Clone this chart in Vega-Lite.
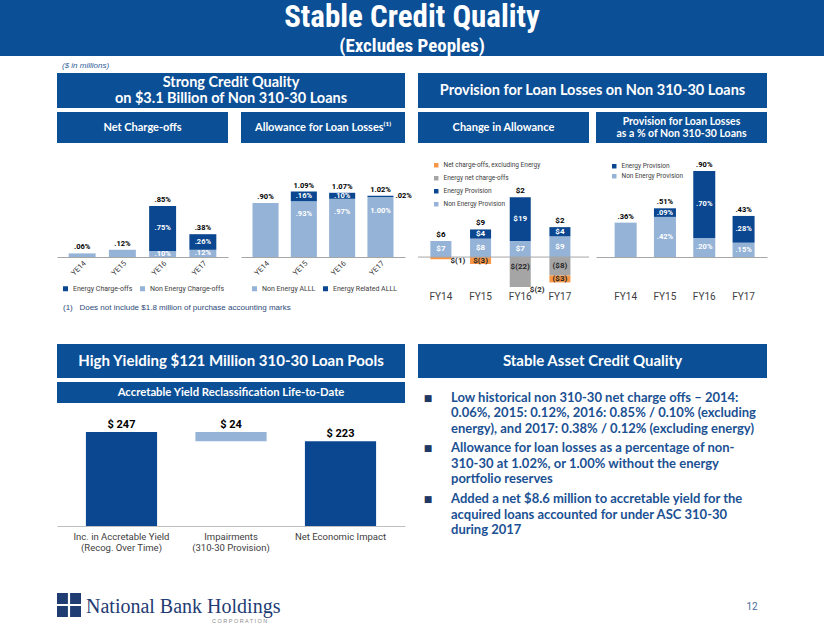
{
"$schema": "https://vega.github.io/schema/vega-lite/v6.json",
"padding": 0,
"background": "white",
"spacing": 0,
"resolve": {"scale": {"color": "independent"}},
"config": {
  "font": "Roboto",
  "view": {"stroke": null},
  "axis": {"grid": false},
  "legend": {"symbolType": "square", "labelFontSize": 7, "labelColor": "#404040", "padding": 0, "symbolStrokeWidth": 0, "symbolSize": 25, "labelFont": "Roboto"}
},
"datasets": {
  "nco": [
    {"year": "YE14", "series": "Non Energy Charge-offs", "value": 0.06, "lbl": ".06%"},
    {"year": "YE15", "series": "Non Energy Charge-offs", "value": 0.12, "lbl": ".12%"},
    {"year": "YE16", "series": "Non Energy Charge-offs", "value": 0.10, "lbl": ".10%"},
    {"year": "YE16", "series": "Energy Charge-offs", "value": 0.75, "lbl": ".75%"},
    {"year": "YE17", "series": "Non Energy Charge-offs", "value": 0.12, "lbl": ".12%"},
    {"year": "YE17", "series": "Energy Charge-offs", "value": 0.26, "lbl": ".26%"}
  ],
  "nco_tot": [
    {"year": "YE14", "total": 0.06, "lbl": ".06%"},
    {"year": "YE15", "total": 0.12, "lbl": ".12%"},
    {"year": "YE16", "total": 0.85, "lbl": ".85%"},
    {"year": "YE17", "total": 0.38, "lbl": ".38%"}
  ],
  "alll": [
    {"year": "YE14", "series": "Non Energy ALLL", "value": 0.90, "lbl": ".90%"},
    {"year": "YE15", "series": "Non Energy ALLL", "value": 0.93, "lbl": ".93%"},
    {"year": "YE15", "series": "Energy Related ALLL", "value": 0.16, "lbl": ".16%"},
    {"year": "YE16", "series": "Non Energy ALLL", "value": 0.97, "lbl": ".97%"},
    {"year": "YE16", "series": "Energy Related ALLL", "value": 0.10, "lbl": ".10%"},
    {"year": "YE17", "series": "Non Energy ALLL", "value": 1.00, "lbl": "1.00%"},
    {"year": "YE17", "series": "Energy Related ALLL", "value": 0.02, "lbl": ".02%"}
  ],
  "alll_tot": [
    {"year": "YE14", "total": 0.90, "lbl": ".90%"},
    {"year": "YE15", "total": 1.09, "lbl": "1.09%"},
    {"year": "YE16", "total": 1.07, "lbl": "1.07%"},
    {"year": "YE17", "total": 1.02, "lbl": "1.02%"}
  ],
  "chg": [
    {"year": "FY14", "series": "Non Energy Provision", "value": 7, "ord": 1, "lbl": "$7"},
    {"year": "FY14", "series": "Net charge-offs, excluding Energy", "value": -1, "ord": 2, "lbl": "$(1)"},
    {"year": "FY15", "series": "Non Energy Provision", "value": 8, "ord": 1, "lbl": "$8"},
    {"year": "FY15", "series": "Energy Provision", "value": 4, "ord": 2, "lbl": "$4"},
    {"year": "FY15", "series": "Net charge-offs, excluding Energy", "value": -3, "ord": 2, "lbl": "$(3)"},
    {"year": "FY16", "series": "Non Energy Provision", "value": 7, "ord": 1, "lbl": "$7"},
    {"year": "FY16", "series": "Energy Provision", "value": 19, "ord": 2, "lbl": "$19"},
    {"year": "FY16", "series": "Energy net charge-offs", "value": -22, "ord": 1, "lbl": "$(22)"},
    {"year": "FY16", "series": "Net charge-offs, excluding Energy", "value": -2, "ord": 2, "lbl": "$(2)"},
    {"year": "FY17", "series": "Non Energy Provision", "value": 9, "ord": 1, "lbl": "$9"},
    {"year": "FY17", "series": "Energy Provision", "value": 4, "ord": 2, "lbl": "$4"},
    {"year": "FY17", "series": "Energy net charge-offs", "value": -8, "ord": 1, "lbl": "($8)"},
    {"year": "FY17", "series": "Net charge-offs, excluding Energy", "value": -3, "ord": 2, "lbl": "($3)"}
  ],
  "chg_tot": [
    {"year": "FY14", "prov": 7, "lbl": "$6"},
    {"year": "FY15", "prov": 12, "lbl": "$9"},
    {"year": "FY16", "prov": 26, "lbl": "$2"},
    {"year": "FY17", "prov": 13, "lbl": "$2"}
  ],
  "ppct": [
    {"year": "FY14", "series": "Non Energy Provision", "value": 0.36, "lbl": ".36%"},
    {"year": "FY15", "series": "Non Energy Provision", "value": 0.42, "lbl": ".42%"},
    {"year": "FY15", "series": "Energy Provision", "value": 0.09, "lbl": ".09%"},
    {"year": "FY16", "series": "Non Energy Provision", "value": 0.20, "lbl": ".20%"},
    {"year": "FY16", "series": "Energy Provision", "value": 0.70, "lbl": ".70%"},
    {"year": "FY17", "series": "Non Energy Provision", "value": 0.15, "lbl": ".15%"},
    {"year": "FY17", "series": "Energy Provision", "value": 0.28, "lbl": ".28%"}
  ],
  "ppct_tot": [
    {"year": "FY14", "total": 0.36, "lbl": ".36%"},
    {"year": "FY15", "total": 0.51, "lbl": ".51%"},
    {"year": "FY16", "total": 0.90, "lbl": ".90%"},
    {"year": "FY17", "total": 0.43, "lbl": ".43%"}
  ],
  "wf": [
    {"cat": "Inc. in Accretable Yield\n(Recog. Over Time)", "start": 0, "end": 247, "kind": "total", "lbl": "$ 247"},
    {"cat": "Impairments\n(310-30 Provision)", "start": 223, "end": 247, "kind": "change", "lbl": "$ 24"},
    {"cat": "Net Economic Impact", "start": 0, "end": 223, "kind": "total", "lbl": "$ 223"}
  ]
},
"vconcat": [
  {
    "width": 824, "height": 56,
    "view": {"fill": "#0B4F96", "stroke": null},
    "data": {"values": [{"t": "Stable Credit Quality", "s": "(Excludes Peoples)"}]},
    "layer": [
      {"mark": {"type": "text", "font": "Liberation Sans Narrow, Roboto Condensed, Roboto", "fontWeight": "bold", "fontSize": 31, "color": "white", "dy": -10}, "encoding": {"text": {"field": "t", "type": "nominal"}}},
      {"mark": {"type": "text", "font": "Liberation Sans Narrow, Roboto Condensed, Roboto", "fontWeight": "bold", "fontSize": 19, "color": "white", "dy": 18}, "encoding": {"text": {"field": "s", "type": "nominal"}}}
    ]
  },
  {
    "width": 124, "height": 17,
    "data": {"values": [{"t": "($ in millions)"}]},
    "mark": {"type": "text", "align": "left", "fontSize": 8, "fontStyle": "italic", "color": "#2E5C99", "font": "Liberation Sans", "dy": 1},
    "encoding": {"text": {"field": "t", "type": "nominal"}}
  },
  {
    "hconcat": [
      {"width": 57, "height": 35, "data": {"values": []}, "mark": "point"},
      {
        "width": 348, "height": 35,
        "view": {"fill": "#0B4F96", "stroke": null},
        "data": {"values": [{"t": "Strong Credit Quality\non $3.1 Billion of Non 310-30 Loans"}]},
        "mark": {"type": "text", "color": "white", "fontWeight": "bold", "fontSize": 14.5, "font": "Lato", "lineBreak": "\n", "lineHeight": 15.5, "dy": -7.5},
        "encoding": {"text": {"field": "t", "type": "nominal"}}
      },
      {"width": 13, "height": 35, "data": {"values": []}, "mark": "point"},
      {
        "width": 349, "height": 35,
        "view": {"fill": "#0B4F96", "stroke": null},
        "data": {"values": [{"t": "Provision for Loan Losses on Non 310-30 Loans"}]},
        "mark": {"type": "text", "color": "white", "fontWeight": "bold", "fontSize": 14.5, "font": "Lato"},
        "encoding": {"text": {"field": "t", "type": "nominal"}}
      }
    ],
    "spacing": 0, "bounds": "flush"
  },
  {"width": 1, "height": 4, "data": {"values": []}, "mark": "point"},
  {
    "hconcat": [
      {"width": 57, "height": 31, "data": {"values": []}, "mark": "point"},
      {
        "width": 171, "height": 31,
        "view": {"fill": "#0B4F96", "stroke": null},
        "data": {"values": [{"t": "Net Charge-offs"}]},
        "mark": {"type": "text", "color": "white", "fontWeight": "bold", "fontSize": 11, "font": "Lato"},
        "encoding": {"text": {"field": "t", "type": "nominal"}}
      },
      {"width": 13, "height": 31, "data": {"values": []}, "mark": "point"},
      {
        "width": 164, "height": 31,
        "view": {"fill": "#0B4F96", "stroke": null},
        "data": {"values": [{"t": "Allowance for Loan Losses⁽¹⁾"}]},
        "mark": {"type": "text", "color": "white", "fontWeight": "bold", "fontSize": 11, "font": "Lato"},
        "encoding": {"text": {"field": "t", "type": "nominal"}}
      },
      {"width": 13, "height": 31, "data": {"values": []}, "mark": "point"},
      {
        "width": 171, "height": 31,
        "view": {"fill": "#0B4F96", "stroke": null},
        "data": {"values": [{"t": "Change in Allowance"}]},
        "mark": {"type": "text", "color": "white", "fontWeight": "bold", "fontSize": 11, "font": "Lato"},
        "encoding": {"text": {"field": "t", "type": "nominal"}}
      },
      {"width": 7, "height": 31, "data": {"values": []}, "mark": "point"},
      {
        "width": 171, "height": 31,
        "view": {"fill": "#0B4F96", "stroke": null},
        "data": {"values": [{"t": "Provision for Loan Losses\nas a % of Non 310-30 Loans"}]},
        "mark": {"type": "text", "color": "white", "fontWeight": "bold", "fontSize": 10.5, "font": "Lato", "lineBreak": "\n", "lineHeight": 12, "dy": -6},
        "encoding": {"text": {"field": "t", "type": "nominal"}}
      }
    ],
    "spacing": 0, "bounds": "flush"
  },
  {"width": 1, "height": 4, "data": {"values": []}, "mark": "point"},
  {
    "hconcat": [
      {"width": 57, "height": 155, "data": {"values": []}, "mark": "point"},
      {
        "width": 171, "height": 110,
        "data": {"name": "nco"},
        "encoding": {
          "x": {"field": "year", "type": "nominal", "scale": {"paddingInner": 0.33, "paddingOuter": 0.29},
                "axis": {"title": null, "labelAngle": -45, "labelFontSize": 7.5, "labelColor": "#404040", "ticks": false, "domainColor": "#A6A6A6", "labelPadding": 2}}
        },
        "layer": [
          {"mark": {"type": "bar"},
           "encoding": {
             "y": {"field": "value", "type": "quantitative", "scale": {"domain": [0, 1.833]}, "axis": null},
             "color": {"field": "series", "type": "nominal", "scale": {"domain": ["Energy Charge-offs", "Non Energy Charge-offs"], "range": ["#0A4790", "#95B3D7"]},
                       "legend": {"title": null, "orient": "none", "legendX": 5, "legendY": 138, "direction": "horizontal", "columnPadding": 6}},
             "order": {"field": "series", "sort": "descending"}}},
          {"mark": {"type": "text", "color": "white", "fontSize": 7.5, "fontWeight": "bold"},
           "encoding": {
             "y": {"field": "value", "type": "quantitative", "stack": "zero", "bandPosition": 0.5, "scale": {"domain": [0, 1.833]}, "axis": null},
             "detail": {"field": "series", "type": "nominal"},
             "order": {"field": "series", "sort": "descending"},
             "text": {"condition": {"test": "datum.year == 'YE16' || datum.year == 'YE17'", "field": "lbl", "type": "nominal"}, "value": ""}}},
          {"data": {"name": "nco_tot"},
           "mark": {"type": "text", "color": "black", "fontSize": 7.5, "fontWeight": "bold", "dy": -6},
           "encoding": {
             "y": {"field": "total", "type": "quantitative", "scale": {"domain": [0, 1.833]}, "axis": null},
             "text": {"field": "lbl", "type": "nominal"}}}
        ]
      },
      {"width": 13, "height": 1, "data": {"values": []}, "mark": "point"},
      {
        "width": 164, "height": 110,
        "data": {"name": "alll"},
        "encoding": {
          "x": {"field": "year", "type": "nominal", "scale": {"paddingInner": 0.32, "paddingOuter": 0.3},
                "axis": {"title": null, "labelAngle": -45, "labelFontSize": 7.5, "labelColor": "#404040", "ticks": false, "domainColor": "#A6A6A6", "labelPadding": 2}}
        },
        "layer": [
          {"mark": {"type": "bar"},
           "encoding": {
             "y": {"field": "value", "type": "quantitative", "scale": {"domain": [0, 1.833]}, "axis": null},
             "color": {"field": "series", "type": "nominal", "scale": {"domain": ["Non Energy ALLL", "Energy Related ALLL"], "range": ["#95B3D7", "#0A4790"]},
                       "legend": {"title": null, "orient": "none", "legendX": 10, "legendY": 138, "direction": "horizontal", "columnPadding": 6}},
             "order": {"field": "series", "sort": "descending"}}},
          {"mark": {"type": "text", "color": "white", "fontSize": 7.5, "fontWeight": "bold"},
           "encoding": {
             "y": {"field": "value", "type": "quantitative", "stack": "zero", "bandPosition": 0.77, "scale": {"domain": [0, 1.833]}, "axis": null},
             "detail": {"field": "series", "type": "nominal"},
             "order": {"field": "series", "sort": "descending"},
             "text": {"condition": {"test": "datum.series == 'Non Energy ALLL' && datum.year != 'YE14'", "field": "lbl", "type": "nominal"}, "value": ""}}},
          {"mark": {"type": "text", "color": "white", "fontSize": 7.5, "fontWeight": "bold"},
           "encoding": {
             "y": {"field": "value", "type": "quantitative", "stack": "zero", "bandPosition": 0.5, "scale": {"domain": [0, 1.833]}, "axis": null},
             "detail": {"field": "series", "type": "nominal"},
             "order": {"field": "series", "sort": "descending"},
             "text": {"condition": {"test": "datum.series == 'Energy Related ALLL' && datum.year != 'YE17'", "field": "lbl", "type": "nominal"}, "value": ""}}},
          {"mark": {"type": "text", "color": "black", "fontSize": 7.5, "fontWeight": "bold", "align": "left", "dx": 15},
           "encoding": {
             "y": {"field": "value", "type": "quantitative", "stack": "zero", "bandPosition": 0.5, "scale": {"domain": [0, 1.833]}, "axis": null},
             "detail": {"field": "series", "type": "nominal"},
             "order": {"field": "series", "sort": "descending"},
             "text": {"condition": {"test": "datum.series == 'Energy Related ALLL' && datum.year == 'YE17'", "field": "lbl", "type": "nominal"}, "value": ""}}},
          {"data": {"name": "alll_tot"},
           "mark": {"type": "text", "color": "black", "fontSize": 7.5, "fontWeight": "bold", "dy": -6},
           "encoding": {
             "y": {"field": "total", "type": "quantitative", "scale": {"domain": [0, 1.833]}, "axis": null},
             "text": {"field": "lbl", "type": "nominal"}}}
        ]
      },
      {"width": 13, "height": 1, "data": {"values": []}, "mark": "point"},
      {
        "width": 171, "height": 140,
        "layer": [
          {
            "data": {"name": "chg"},
            "encoding": {
              "x": {"field": "year", "type": "nominal", "scale": {"paddingInner": 0.47, "paddingOuter": 0.39, "align": 0.4},
                    "axis": {"title": null, "labelAngle": 0, "labelFontSize": 10, "labelColor": "#404040", "ticks": false, "domain": false, "labelPadding": 4}}
            },
            "layer": [
              {"mark": {"type": "bar"},
               "encoding": {
                 "y": {"field": "value", "type": "quantitative", "scale": {"domain": [-13, 47.8], "clamp": true}, "axis": null},
                 "color": {"field": "series", "type": "nominal", "scale": {"domain": ["Net charge-offs, excluding Energy", "Energy net charge-offs", "Energy Provision", "Non Energy Provision"], "range": ["#F79646", "#A5A5A5", "#0A4790", "#95B3D7"]},
                           "legend": {"title": null, "orient": "none", "legendX": 15, "legendY": 15, "direction": "vertical", "labelFontSize": 6.5, "symbolSize": 20, "rowPadding": 6}},
                 "order": {"field": "ord"}}},
              {"mark": {"type": "text", "color": "white", "fontSize": 8, "fontWeight": "bold"},
               "encoding": {
                 "y": {"field": "value", "type": "quantitative", "stack": "zero", "bandPosition": 0.5, "scale": {"domain": [-13, 47.8], "clamp": true}, "axis": null},
                 "detail": {"field": "series", "type": "nominal"},
                 "order": {"field": "ord"},
                 "text": {"condition": {"test": "datum.value > 0", "field": "lbl", "type": "nominal"}, "value": ""}}},
              {"mark": {"type": "text", "color": "#262626", "fontSize": 8, "fontWeight": "bold"},
               "encoding": {
                 "y": {"field": "value", "type": "quantitative", "stack": "zero", "bandPosition": 0.5, "scale": {"domain": [-13, 47.8], "clamp": true}, "axis": null},
                 "detail": {"field": "series", "type": "nominal"},
                 "order": {"field": "ord"},
                 "text": {"condition": {"test": "datum.value < 0 && (datum.year == 'FY15' || datum.year == 'FY17')", "field": "lbl", "type": "nominal"}, "value": ""}}},
              {"mark": {"type": "text", "color": "#262626", "fontSize": 8, "fontWeight": "bold", "dx": 17, "dy": 3},
               "encoding": {
                 "y": {"field": "value", "type": "quantitative", "stack": "zero", "bandPosition": 0.5, "scale": {"domain": [-13, 47.8], "clamp": true}, "axis": null},
                 "detail": {"field": "series", "type": "nominal"},
                 "order": {"field": "ord"},
                 "text": {"condition": {"test": "datum.value < 0 && datum.ord == 2 && (datum.year == 'FY14' || datum.year == 'FY16')", "field": "lbl", "type": "nominal"}, "value": ""}}},
              {"mark": {"type": "text", "color": "#262626", "fontSize": 8, "fontWeight": "bold"},
               "encoding": {
                 "y": {"field": "value", "type": "quantitative", "stack": "zero", "bandPosition": 0.2, "scale": {"domain": [-13, 47.8], "clamp": true}, "axis": null},
                 "detail": {"field": "series", "type": "nominal"},
                 "order": {"field": "ord"},
                 "text": {"condition": {"test": "datum.value < 0 && datum.ord == 1 && datum.year == 'FY16'", "field": "lbl", "type": "nominal"}, "value": ""}}},
              {"data": {"name": "chg_tot"},
               "mark": {"type": "text", "color": "black", "fontSize": 8, "fontWeight": "bold", "dy": -6},
               "encoding": {
                 "y": {"field": "prov", "type": "quantitative", "scale": {"domain": [-13, 47.8], "clamp": true}, "axis": null},
                 "text": {"field": "lbl", "type": "nominal"}}}
            ]
          },
          {
            "data": {"values": [{"z": 0}]},
            "mark": {"type": "rule", "color": "#A6A6A6", "strokeWidth": 1},
            "encoding": {"y": {"field": "z", "type": "quantitative", "scale": {"domain": [-13, 47.8], "clamp": true}, "axis": null}}
          }
        ]
      },
      {"width": 7, "height": 1, "data": {"values": []}, "mark": "point"},
      {
        "width": 171, "height": 110,
        "data": {"name": "ppct"},
        "encoding": {
          "x": {"field": "year", "type": "nominal", "scale": {"paddingInner": 0.44, "paddingOuter": 0.395, "align": 0.6},
                "axis": {"title": null, "labelAngle": 0, "labelFontSize": 10, "labelColor": "#404040", "ticks": false, "domainColor": "#A6A6A6", "labelPadding": 34}}
        },
        "layer": [
          {"mark": {"type": "bar"},
           "encoding": {
             "y": {"field": "value", "type": "quantitative", "scale": {"domain": [0, 1.152]}, "axis": null},
             "color": {"field": "series", "type": "nominal", "scale": {"domain": ["Energy Provision", "Non Energy Provision"], "range": ["#0A4790", "#95B3D7"]},
                       "legend": {"title": null, "orient": "none", "legendX": 15, "legendY": 16, "direction": "vertical", "labelFontSize": 6.5, "symbolSize": 20, "rowPadding": 3}},
             "order": {"field": "series", "sort": "descending"}}},
          {"mark": {"type": "text", "color": "white", "fontSize": 7.5, "fontWeight": "bold"},
           "encoding": {
             "y": {"field": "value", "type": "quantitative", "stack": "zero", "bandPosition": 0.5, "scale": {"domain": [0, 1.152]}, "axis": null},
             "detail": {"field": "series", "type": "nominal"},
             "order": {"field": "series", "sort": "descending"},
             "text": {"condition": {"test": "datum.year != 'FY14'", "field": "lbl", "type": "nominal"}, "value": ""}}},
          {"data": {"name": "ppct_tot"},
           "mark": {"type": "text", "color": "black", "fontSize": 7.5, "fontWeight": "bold", "dy": -6},
           "encoding": {
             "y": {"field": "total", "type": "quantitative", "scale": {"domain": [0, 1.152]}, "axis": null},
             "text": {"field": "lbl", "type": "nominal"}}}
        ]
      }
    ],
    "spacing": 0, "bounds": "flush", "resolve": {"scale": {"color": "independent"}}
  },
  {
    "width": 126, "height": 12,
    "data": {"values": [{"t": "(1)\u00a0\u00a0\u00a0Does not include $1.8 million of purchase accounting marks"}]},
    "mark": {"type": "text", "align": "left", "fontSize": 8, "color": "#2B4A78", "font": "Liberation Sans"},
    "encoding": {"text": {"field": "t", "type": "nominal"}}
  },
  {"width": 1, "height": 30, "data": {"values": []}, "mark": "point"},
  {
    "hconcat": [
      {"width": 57, "height": 34, "data": {"values": []}, "mark": "point"},
      {
        "width": 348, "height": 34,
        "view": {"fill": "#0B4F96", "stroke": null},
        "data": {"values": [{"t": "High Yielding $121 Million 310-30 Loan Pools"}]},
        "mark": {"type": "text", "color": "white", "fontWeight": "bold", "fontSize": 15, "font": "Lato"},
        "encoding": {"text": {"field": "t", "type": "nominal"}}
      },
      {"width": 13, "height": 34, "data": {"values": []}, "mark": "point"},
      {
        "width": 349, "height": 34,
        "view": {"fill": "#0B4F96", "stroke": null},
        "data": {"values": [{"t": "Stable Asset Credit Quality"}]},
        "mark": {"type": "text", "color": "white", "fontWeight": "bold", "fontSize": 15, "font": "Lato"},
        "encoding": {"text": {"field": "t", "type": "nominal"}}
      }
    ],
    "spacing": 0, "bounds": "flush"
  },
  {"width": 1, "height": 4, "data": {"values": []}, "mark": "point"},
  {
    "hconcat": [
      {"width": 57, "height": 211, "data": {"values": []}, "mark": "point"},
      {
        "vconcat": [
          {
            "width": 348, "height": 21,
            "view": {"fill": "#0B4F96", "stroke": null},
            "data": {"values": [{"t": "Accretable Yield Reclassification Life-to-Date"}]},
            "mark": {"type": "text", "color": "white", "fontWeight": "bold", "fontSize": 11.3, "font": "Lato"},
            "encoding": {"text": {"field": "t", "type": "nominal"}}
          },
          {
            "width": 348, "height": 119,
            "data": {"name": "wf"},
            "encoding": {
              "x": {"field": "cat", "type": "nominal", "sort": null, "scale": {"paddingInner": 0.35, "paddingOuter": 0.264},
                    "axis": {"title": null, "labelAngle": 0, "labelFontSize": 9.5, "labelColor": "#404040", "ticks": false, "domainColor": "#BFBFBF", "labelPadding": 5, "labelLineHeight": 11, "labelExpr": "split(datum.label, '\\n')"}}
            },
            "layer": [
              {"mark": {"type": "bar"},
               "encoding": {
                 "y": {"field": "start", "type": "quantitative", "scale": {"domain": [0, 313]}, "axis": null},
                 "y2": {"field": "end"},
                 "color": {"field": "kind", "type": "nominal", "scale": {"domain": ["total", "change"], "range": ["#0A4790", "#95B3D7"]}, "legend": null}}},
              {"mark": {"type": "text", "color": "black", "fontSize": 11, "fontWeight": "bold", "dy": -7},
               "encoding": {
                 "y": {"field": "end", "type": "quantitative", "scale": {"domain": [0, 313]}, "axis": null},
                 "text": {"field": "lbl", "type": "nominal"}}}
            ]
          }
        ],
        "spacing": 4, "bounds": "flush", "resolve": {"scale": {"color": "independent"}}
      },
      {"width": 13, "height": 1, "data": {"values": []}, "mark": "point"},
      {
        "width": 66, "height": 140,
        "data": {"values": [
          {"n": 1, "txt": "Low historical non 310-30 net charge offs – 2014:\n0.06%, 2015: 0.12%, 2016: 0.85% / 0.10% (excluding\nenergy), and 2017: 0.38% / 0.12% (excluding energy)"},
          {"n": 2, "txt": "Allowance for loan losses as a percentage of non-\n310-30 at 1.02%, or 1.00% without the energy\nportfolio reserves"},
          {"n": 3, "txt": "Added a net $8.6 million to accretable yield for the\nacquired loans accounted for under ASC 310-30\nduring 2017"}
        ]},
        "encoding": {"y": {"field": "n", "type": "ordinal", "scale": {"type": "point", "padding": 0.373, "align": 0.25}, "axis": null}},
        "layer": [
          {"mark": {"type": "text", "align": "left", "baseline": "top", "lineBreak": "\n", "lineHeight": 15.5, "fontSize": 13, "fontWeight": "bold", "color": "#1B5193", "font": "Lato"},
           "encoding": {"text": {"field": "txt", "type": "nominal"}}},
          {"mark": {"type": "text", "align": "center", "baseline": "top", "dx": -23, "dy": 2, "fontSize": 9, "color": "#1F3864", "font": "DejaVu Sans"},
           "encoding": {"text": {"value": "■"}}}
        ]
      }
    ],
    "spacing": 0, "resolve": {"scale": {"color": "independent"}}
  },
  {
    "hconcat": [
      {"width": 57, "height": 24, "data": {"values": []}, "mark": "point"},
      {
        "width": 24, "height": 24,
        "view": {"fill": "#1F3C73", "stroke": null},
        "data": {"values": [{"k": "logo"}]},
        "mark": {"type": "point", "shape": "M-1,-0.09H1V0.09H-1Z M-0.09,-1H0.09V1H-0.09Z", "size": 576, "filled": true, "color": "white", "opacity": 1, "strokeWidth": 0},
        "encoding": {}
      },
      {
        "width": 10, "height": 24,
        "data": {"values": [{"a": "National Bank Holdings", "b": "C O R P O R A T I O N", "c": "12"}]},
        "layer": [
          {"mark": {"type": "text", "align": "left", "baseline": "alphabetic", "dy": 8, "fontSize": 20, "font": "Liberation Serif", "color": "#1F3C73"}, "encoding": {"text": {"field": "a", "type": "nominal"}}},
          {"mark": {"type": "text", "align": "left", "dx": 126, "dy": 16, "fontSize": 5.5, "font": "Liberation Sans", "color": "#8C8C8C"}, "encoding": {"text": {"field": "b", "type": "nominal"}}},
          {"mark": {"type": "text", "align": "center", "dx": 666, "dy": 2, "fontSize": 10, "font": "Liberation Sans Narrow, Roboto", "color": "#4A6A9C"}, "encoding": {"text": {"field": "c", "type": "nominal"}}}
        ]
      }
    ],
    "spacing": 0, "bounds": "flush"
  }
]
}
